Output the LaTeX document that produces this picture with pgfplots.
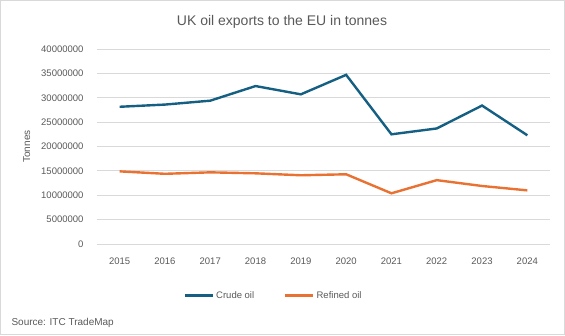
\documentclass[border=0pt]{standalone}
\usepackage{fontspec}
\setmainfont{Liberation Sans}
\usepackage{pgfplots}
\pgfplotsset{compat=1.18}
\definecolor{crude}{HTML}{156082}
\definecolor{refined}{HTML}{E97132}
\definecolor{txt}{HTML}{595959}
\definecolor{gridc}{HTML}{D9D9D9}
\begin{document}
\begin{tikzpicture}[x=1pt,y=1pt]
\draw[gridc, line width=0.8pt] (0.4,0.4) rectangle (564.6,334.6);
\node[txt, font=\fontsize{14}{16}\selectfont] at (282,313) {UK oil exports to the EU in tonnes};
\node[txt, font=\fontsize{10}{12}\selectfont, anchor=west] at (8,12) {Source: ITC TradeMap};
\begin{axis}[
  at={(97pt,91pt)}, anchor=south west,
  scale only axis, width=453pt, height=195pt,
  xmin=2014.5, xmax=2024.5, ymin=0, ymax=40000000,
  xtick={2015,...,2024}, ytick={0,5000000,...,40000000},
  xticklabel style={/pgf/number format/1000 sep={}},
  scaled y ticks=false,
  yticklabel style={/pgf/number format/fixed, /pgf/number format/1000 sep={}},
  /pgf/number format/assume math mode=true,
  ymajorgrids, grid style={gridc, line width=0.8pt},
  axis line style={draw=none}, tick style={draw=none},
  ticklabel style={txt, font=\fontsize{9.5}{11}\selectfont},
  xticklabel shift=10pt, yticklabel shift=10pt,
  ylabel={Tonnes},
  every axis y label/.style={at={(axis description cs:-0.155,0.5)}, rotate=90, anchor=center, txt, font=\fontsize{10}{12}\selectfont},
  legend columns=2,
  legend style={draw=none, fill=none, at={(0.39,-0.265)}, anchor=center, font=\fontsize{9.5}{11}\selectfont, text=txt, /tikz/every even column/.append style={column sep=28pt}},
  legend image code/.code={\draw[#1, line width=2.4pt] (0pt,0pt) -- (28pt,0pt);},
]
\addplot[crude, line width=2.4pt] coordinates {
(2015,28150000) (2016,28600000) (2017,29400000) (2018,32400000) (2019,30700000)
(2020,34700000) (2021,22500000) (2022,23700000) (2023,28400000) (2024,22300000)};
\addlegendentry{Crude oil}
\addplot[refined, line width=2.4pt] coordinates {
(2015,14900000) (2016,14400000) (2017,14700000) (2018,14500000) (2019,14100000)
(2020,14300000) (2021,10400000) (2022,13100000) (2023,11900000) (2024,11000000)};
\addlegendentry{Refined oil}
\end{axis}
\end{tikzpicture}
\end{document}
